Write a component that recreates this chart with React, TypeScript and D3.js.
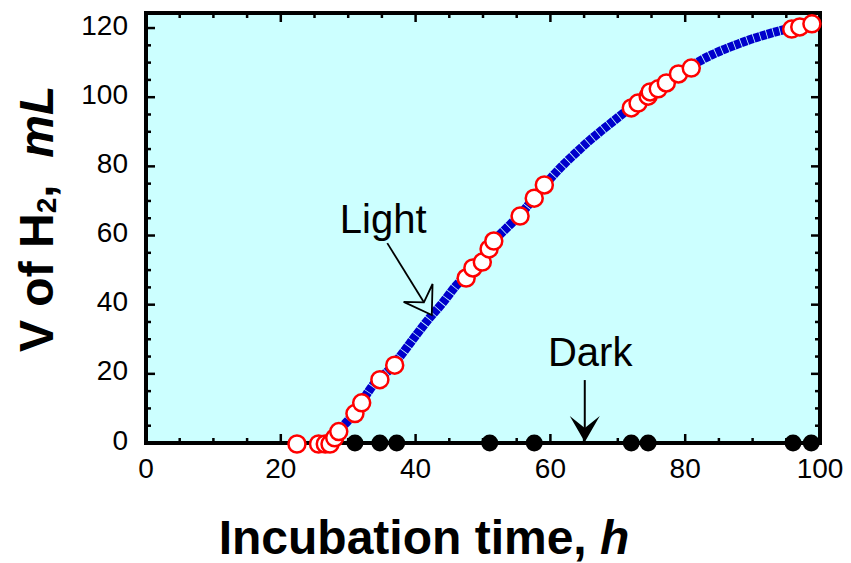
import React, { useEffect, useRef } from "react";
import * as d3 from "d3";

// continuous H2 record (blue trace)
const curveT = [26.5, 27, 28, 29, 30, 32, 34, 36, 38, 40, 42, 44, 46, 48, 50, 52, 54, 56, 58, 60, 62, 64, 66, 68, 70, 72, 74, 76, 78, 80, 82, 84, 86, 88, 90, 92, 94, 96, 98, 99];
const curveV = [0, 0.5, 2.3, 4.5, 6.5, 12, 17.5, 21, 25.8, 31, 36, 40.5, 45.5, 49.5, 54, 59.2, 63.1, 67.1, 72, 76.5, 80.6, 84.3, 87.8, 91, 94.1, 97.2, 100.2, 102.8, 105.4, 108, 110.3, 112.3, 114, 115.5, 116.9, 118.1, 119.2, 120.1, 120.9, 121.3];

// measured points under light (open circles)
const lightT = [22.4, 25.6, 26.6, 27.3, 28.0, 28.6, 31.0, 32.0, 34.7, 36.9, 47.5, 48.5, 49.9, 50.9, 51.6, 55.5, 57.6, 59.1, 72.0, 73.0, 74.5, 74.8, 76.0, 77.2, 79.0, 80.9, 95.8, 97.0, 98.8];
const lightV = [0, 0, 0, 0, 1.8, 3.6, 8.8, 11.9, 18.6, 22.8, 48.0, 50.9, 52.6, 56.4, 58.7, 65.9, 71.1, 74.9, 97.2, 98.6, 100.6, 101.8, 102.7, 104.4, 107.0, 108.7, 120.0, 120.6, 121.5];

// measured points in the dark (filled dots, all at zero)
const darkT = [31.0, 34.7, 37.2, 51.0, 57.6, 72.0, 74.5, 96.0, 98.7];

const xTicks = [0, 20, 40, 60, 80, 100];
const yTicks = [0, 20, 40, 60, 80, 100, 120];

const FONT = "'Liberation Sans', Arial, sans-serif";

const Chart = () => {
    const svgRef = useRef(null);

    useEffect(() => {
        const width = 851, height = 563;
        const left = 146, right = 820, top = 13, bottom = 443;

        const svg = d3.select(svgRef.current)
            .attr("width", width)
            .attr("height", height);
        svg.selectAll("*").remove();

        const x = d3.scaleLinear().domain([0, 100]).range([left, right]);
        const y = d3.scaleLinear().domain([0, 124.35]).range([bottom, top]);

        svg.append("rect")
            .attr("x", left).attr("y", top)
            .attr("width", right - left).attr("height", bottom - top)
            .attr("fill", "#ccffff");

        // inward ticks on all four sides
        const minorX = d3.range(0, 101, 5);
        const minorY = d3.range(0, 121, 5);
        const tk = svg.append("g").attr("stroke", "black").attr("stroke-width", 2.5);
        minorX.forEach(v => {
            const len = v % 20 === 0 ? 9 : 5;
            tk.append("line").attr("x1", x(v)).attr("x2", x(v)).attr("y1", bottom).attr("y2", bottom - len);
            tk.append("line").attr("x1", x(v)).attr("x2", x(v)).attr("y1", top).attr("y2", top + len);
        });
        minorY.forEach(v => {
            const len = v % 20 === 0 ? 9 : 5;
            tk.append("line").attr("y1", y(v)).attr("y2", y(v)).attr("x1", left).attr("x2", left + len);
            tk.append("line").attr("y1", y(v)).attr("y2", y(v)).attr("x1", right).attr("x2", right - len);
        });

        svg.append("rect")
            .attr("x", left).attr("y", top)
            .attr("width", right - left).attr("height", bottom - top)
            .attr("fill", "none").attr("stroke", "black").attr("stroke-width", 4);

        svg.append("g").selectAll("text").data(xTicks).enter().append("text")
            .attr("x", d => x(d)).attr("y", 478)
            .attr("text-anchor", "middle")
            .attr("font-family", FONT).attr("font-size", 28)
            .text(d => d);

        svg.append("g").selectAll("text").data(yTicks).enter().append("text")
            .attr("x", 128).attr("y", d => y(d) + 6.5)
            .attr("text-anchor", "end")
            .attr("font-family", FONT).attr("font-size", 28)
            .text(d => d);

        // blue trace
        const line = d3.line().x(d => x(d[0])).y(d => y(d[1])).curve(d3.curveMonotoneX);
        svg.append("path")
            .datum(curveT.map((t, i) => [t, curveV[i]]))
            .attr("d", line)
            .attr("fill", "none")
            .attr("stroke", "#0000cc")
            .attr("stroke-width", 9)
            .attr("stroke-dasharray", "6,0.8");

        svg.append("g").selectAll("circle").data(darkT).enter().append("circle")
            .attr("cx", d => x(d)).attr("cy", y(0)).attr("r", 8.5)
            .attr("fill", "black");

        svg.append("g").selectAll("circle").data(lightT).enter().append("circle")
            .attr("cx", d => x(d)).attr("cy", (d, i) => y(lightV[i]) + 1)
            .attr("r", 8.5)
            .attr("fill", "white").attr("stroke", "#ff0000").attr("stroke-width", 2.5);

        // annotation arrows
        const head = (tx, ty, sx, sy, L, W, N) => {
            const dx = tx - sx, dy = ty - sy, m = Math.hypot(dx, dy);
            const ux = dx / m, uy = dy / m, nx = -uy, ny = ux;
            return [
                [tx, ty],
                [tx - L * ux + W * nx, ty - L * uy + W * ny],
                [tx - N * ux, ty - N * uy],
                [tx - L * ux - W * nx, ty - L * uy - W * ny]
            ];
        };

        const lS = [x(35.8), y(57.8)], lT = [x(42.4), y(37.0)];
        const lh = head(lT[0], lT[1], lS[0], lS[1], 26, 17, 15);
        svg.append("line")
            .attr("x1", lS[0]).attr("y1", lS[1]).attr("x2", lh[2][0]).attr("y2", lh[2][1])
            .attr("stroke", "black").attr("stroke-width", 1.8);
        svg.append("polygon")
            .attr("points", lh.map(p => p.join(",")).join(" "))
            .attr("fill", "#ccffff").attr("stroke", "black").attr("stroke-width", 1.8)
            .attr("stroke-linejoin", "miter");

        const dS = [x(65.1), y(18.2)], dT = [x(65.1), y(0.3)];
        const dh = head(dT[0], dT[1], dS[0], dS[1], 26, 15, 14);
        svg.append("line")
            .attr("x1", dS[0]).attr("y1", dS[1]).attr("x2", dh[2][0]).attr("y2", dh[2][1])
            .attr("stroke", "black").attr("stroke-width", 2);
        svg.append("polygon")
            .attr("points", dh.map(p => p.join(",")).join(" "))
            .attr("fill", "black");

        svg.append("text")
            .attr("x", x(35.2)).attr("y", y(60.7))
            .attr("text-anchor", "middle")
            .attr("font-family", FONT).attr("font-size", 40)
            .text("Light");
        svg.append("text")
            .attr("x", x(65.9)).attr("y", y(22.3))
            .attr("text-anchor", "middle")
            .attr("font-family", FONT).attr("font-size", 40)
            .text("Dark");

        // axis titles
        const xl = svg.append("text")
            .attr("x", 424).attr("y", 554)
            .attr("text-anchor", "middle")
            .attr("font-family", FONT).attr("font-size", 48).attr("font-weight", "bold");
        xl.append("tspan").text("Incubation time, ");
        xl.append("tspan").attr("font-style", "italic").text("h");

        const yl = svg.append("text")
            .attr("transform", "translate(53,352) rotate(-90)")
            .attr("font-family", FONT).attr("font-size", 48).attr("font-weight", "bold")
            .attr("xml:space", "preserve");
        yl.append("tspan").text("V of H");
        yl.append("tspan").attr("font-size", 28).attr("dy", 3).text("2");
        yl.append("tspan").attr("dy", -3).text(",\u00a0\u00a0");
        yl.append("tspan").attr("font-style", "italic").text("mL");
    }, []);

    return <svg ref={svgRef} style={{ position: "absolute", left: 0, top: 0 }}></svg>;
};

export default function App() {
    return <Chart />;
}
